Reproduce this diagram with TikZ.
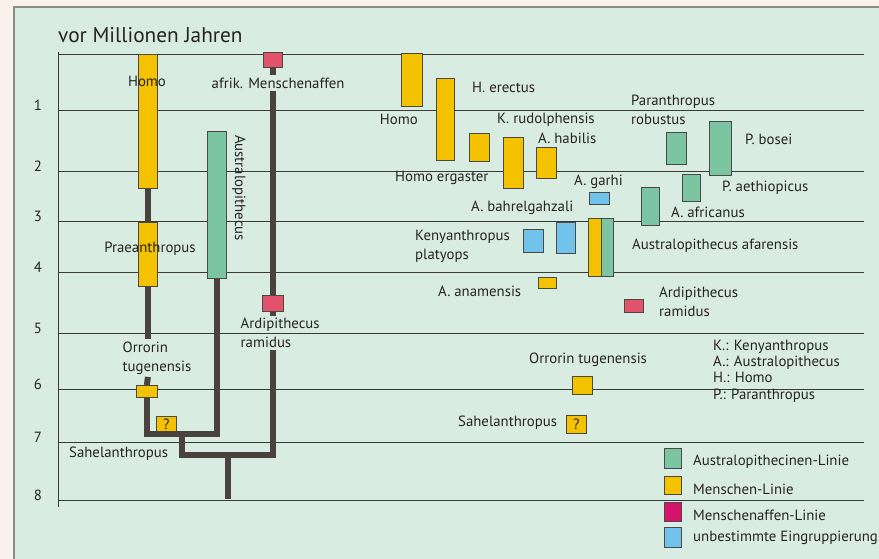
\documentclass[tikz,border=0pt]{standalone}
\usepackage{fontspec}
\setmainfont{PT Sans}
\usetikzlibrary{positioning}
\definecolor{outercol}{HTML}{FAF2EA}
\definecolor{panelcol}{HTML}{D9ECE1}
\definecolor{framecol}{HTML}{8C8C84}
\definecolor{rulecol}{HTML}{3A3A38}
\definecolor{trunkcol}{HTML}{4A433D}
\definecolor{boxline}{HTML}{4A4A44}
\definecolor{txtcol}{HTML}{262321}
\definecolor{ylw}{HTML}{F5C200}
\definecolor{grn}{HTML}{7CC5A2}
\definecolor{rd}{HTML}{E2526B}
\definecolor{mag}{HTML}{D6146E}
\definecolor{blu}{HTML}{71C3EC}
\tikzset{
  rule/.style={draw=rulecol, line width=0.9pt},
  box/.style={draw=boxline, line width=0.8pt, inner sep=0pt, anchor=north west},
  menschbox/.style={box, fill=ylw},
  australbox/.style={box, fill=grn},
  affenbox/.style={box, fill=rd},
  unbestbox/.style={box, fill=blu},
  trunk/.style={draw=trunkcol, line width=6pt, line join=miter},
  lbl/.style={inner sep=1pt, anchor=west, align=left},
  every node/.style={text=txtcol, font=\fontsize{14.8}{18.8}\selectfont},
}
\begin{document}
\begin{tikzpicture}[x=1pt, y=-1pt]
    \useasboundingbox (0,0) rectangle (879,559);
    \fill[outercol] (0,0) rectangle (879,559);
    \draw[framecol, line width=1.5pt, fill=panelcol] (14,7) rectangle (890,570);

    % time axis
    \node[anchor=west, inner sep=0pt, font=\fontsize{21.3}{24}\selectfont] (title) at (58,35) {vor Millionen Jahren};
    \draw[rule] (58,52) -- (58,507);
    \draw[rule] (58,54) -- (864,54);
    \foreach \y/\n in {110/1, 171/2, 221/3, 272/4, 333/5, 389/6, 442/7, 500/8} {
        \draw[rule] (58,\y) -- (864,\y);
        \node (tick\n) at (38,\y-5) {\n};
    }

    % stammbaum links
    \node[menschbox, minimum width=19, minimum height=134] (homoL) at (138,54) {};
    \node[menschbox, minimum width=19, minimum height=64] (praeL) at (138,222) {};
    \node[menschbox, minimum width=21, minimum height=12] (orrL) at (136,385) {};
    \node[menschbox, minimum width=20, minimum height=15] (saheL) at (156,416) {};
    \node[australbox, minimum width=19, minimum height=147] (austL) at (207,131) {};
    \node[affenbox, minimum width=19, minimum height=15] (apeL) at (263,52) {};
    \node[affenbox, minimum width=21, minimum height=16] (ardiL) at (262,295) {};

    \node at (147,81) {Homo};
    \node at (150,249) {Praeanthropus};
    \node at (saheL.center) {?};
    \node[rotate=-90] (austTxtL) at (239,188) {Australopithecus};
    \node[lbl, inner sep=2.5pt] (orrTxtL) at (120,358) {Orrorin\\tugenensis};
    \node[lbl, inner sep=2.5pt] (apeTxt) at (209,83) {afrik. Menschenaffen};
    \node[lbl, inner sep=2.5pt] (ardiTxtL) at (238,333) {Ardipithecus\\ramidus};
    \node[lbl] (saheTxtL) at (68,454) {Sahelanthropus};

    \coordinate (fork1) at (181.5,433.5);
    \coordinate (fork2) at (227.5,454.5);
    \coordinate (root) at (227.5,499);

    \draw[trunk] (homoL.south) -- (praeL.north);
    \draw[trunk] (praeL.south) -- (praeL.south |- orrTxtL.north);
    \draw[trunk] (praeL.south |- orrTxtL.south) -- (orrL.north);
    \draw[trunk] (orrL.south) |- (fork1) -| (austL.south);
    \draw[trunk] (fork1) |- (fork2) -| (ardiL.south |- ardiTxtL.south);
    \draw[trunk] (fork2) -- (root);
    \draw[trunk] (apeL.south) -- (apeL.south |- apeTxt.north);
    \draw[trunk] (apeL.south |- apeTxt.south) -- (ardiL.north);
    \draw[trunk] (ardiL.south) -- (ardiL.south |- ardiTxtL.north);

    % arten rechts
    \node[menschbox, minimum width=21, minimum height=53] (homoR) at (401,53) {};
    \node[menschbox, minimum width=18, minimum height=82] (erectR) at (436,78) {};
    \node[menschbox, minimum width=20, minimum height=28] (rudolR) at (469,133) {};
    \node[menschbox, minimum width=20, minimum height=51] (ergR) at (503,137) {};
    \node[menschbox, minimum width=20, minimum height=31] (habR) at (536,147) {};
    \node[unbestbox, minimum width=20, minimum height=12] (garhiR) at (589,192) {};
    \node[unbestbox, minimum width=20, minimum height=23] (kenyR) at (523,229) {};
    \node[unbestbox, minimum width=19, minimum height=31] (bahrR) at (556,222) {};
    \node[menschbox, minimum width=13, minimum height=58] (afarY) at (588,218) {};
    \node[australbox, minimum width=12, minimum height=58] (afarG) at (601,218) {};
    \node[menschbox, minimum width=18, minimum height=11] (anamR) at (538,277) {};
    \node[australbox, minimum width=18, minimum height=38] (afrR) at (641,187) {};
    \node[australbox, minimum width=18, minimum height=27] (aethR) at (682,174) {};
    \node[australbox, minimum width=20, minimum height=32] (robR) at (666,132) {};
    \node[australbox, minimum width=22, minimum height=54] (boseR) at (709,121) {};
    \node[affenbox, minimum width=19, minimum height=13] (ardiR) at (624,299) {};
    \node[menschbox, minimum width=20, minimum height=18] (orrR) at (572,376) {};
    \node[menschbox, minimum width=20, minimum height=18] (saheR) at (566,415) {};
    \node at (saheR.center) {?};

    \node[lbl, anchor=east] (homoTxtR) at (419,119) {Homo};
    \node[lbl] (erectTxt) at (471,87) {H. erectus};
    \node[lbl] (rudolTxt) at (496,120) {K. rudolphensis};
    \node[lbl] (habTxt) at (537,138) {A. habilis};
    \node[lbl] (ergTxt) at (394,178) {Homo ergaster};
    \node[lbl] (garhiTxt) at (573,182) {A. garhi};
    \node[lbl] (bahrTxt) at (470,208) {A. bahrelgahzali};
    \node[lbl] (kenyTxt) at (414,246) {Kenyanthropus\\platyops};
    \node[lbl] (afarTxt) at (631,246) {Australopithecus afarensis};
    \node[lbl] (anamTxt) at (437,291) {A. anamensis};
    \node[lbl] (robTxt) at (630,110) {Paranthropus\\robustus};
    \node[lbl] (boseTxt) at (744,139) {P. bosei};
    \node[lbl] (aethTxt) at (721,188) {P. aethiopicus};
    \node[lbl] (afrTxt) at (670,212) {A. africanus};
    \node[lbl] (ardiTxtR) at (658,302) {Ardipithecus\\ramidus};
    \node[lbl] (orrTxtR) at (528,360) {Orrorin tugenensis};
    \node[lbl] (saheTxtR) at (457,423) {Sahelanthropus};

    % abkuerzungen
    \node[lbl, font=\fontsize{14.8}{16.3}\selectfont] (abbr) at (712,371) {K.: Kenyanthropus\\ A.: Australopithecus\\H.: Homo\\P.: Paranthropus};

    % legende
    \node[australbox, minimum width=17, minimum height=20] (legA) at (664,448) {};
    \node[menschbox, minimum width=17, minimum height=18] (legM) at (664,476) {};
    \node[box, fill=mag, minimum width=17, minimum height=19] (legAf) at (664,502) {};
    \node[unbestbox, minimum width=17, minimum height=20] (legU) at (664,527) {};
    \node[lbl] at (692,462) {Australopithecinen-Linie};
    \node[lbl] at (692,489) {Menschen-Linie};
    \node[lbl] at (692,515) {Menschenaffen-Linie};
    \node[lbl] at (692,538) {unbestimmte Eingruppierung};
\end{tikzpicture}
\end{document}
